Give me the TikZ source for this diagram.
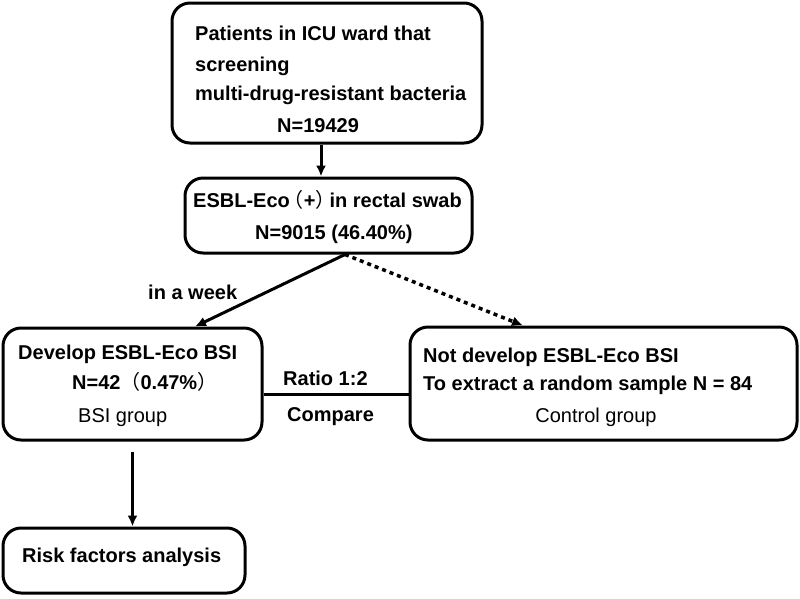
\documentclass[tikz,border=0pt]{standalone}
\usepackage{fontspec}
\setmainfont{Liberation Sans}
\newfontfamily\cjk{Noto Sans CJK SC}
\usetikzlibrary{arrows.meta,positioning}
\tikzset{
  box/.style={draw=black, line width=3pt, rounded corners=18pt, fill=none, inner sep=0pt},
  txt/.style={anchor=base west, inner sep=0pt, font=\fontsize{20}{24}\selectfont\bfseries},
  txtr/.style={anchor=base west, inner sep=0pt, font=\fontsize{20}{24}\selectfont},
  arr/.style={line width=3pt, -{Latex[length=11pt,width=10pt]}},
  dotarr/.style={line width=3.5pt, dash pattern=on 4pt off 4pt, -{Latex[length=11pt,width=10pt]}},
  link/.style={line width=3pt}
}
\begin{document}
\begin{tikzpicture}[x=1pt,y=-1pt]
\useasboundingbox (0,0) rectangle (800,598);
% boxes
\node[box, minimum width=310pt, minimum height=140pt] (top) at (327,73) {};
\node[box, minimum width=287pt, minimum height=75pt] (esbl) at (328.5,215.5) {};
\node[box, minimum width=259pt, minimum height=112pt] (bsi) at (132.5,384) {};
\node[box, minimum width=387pt, minimum height=113pt] (ctrl) at (603.5,383.5) {};
\node[box, minimum width=242pt, minimum height=65pt] (risk) at (124,560.5) {};
% texts
\node[txt] (t1) at (195,40) {Patients in ICU ward that};
\node[txt] (t2) at (195,71) {screening};
\node[txt] (t3) at (195,100) {multi-drug-resistant bacteria};
\node[txt] (t4) at (277,132) {N=19429};
\node[txt] (e1) at (193,207) {ESBL-Eco\kern-6pt{\cjk\mdseries （}+{\cjk\mdseries ）}\kern-6pt in rectal swab};
\node[txt] (e2) at (255,239) {N=9015 (46.40\%)};
\node[txt] (wk) at (148,299) {in a week};
\node[txt] (b1) at (18,359) {Develop ESBL-Eco BSI};
\node[txt] (b2) at (72,389) {N=42{\cjk\mdseries （}0.47\%{\cjk\mdseries ）}};
\node[txtr] (b3) at (78,422) {BSI group};
\node[txt] (r1) at (283,385) {Ratio 1:2};
\node[txt] (r2) at (287,421) {Compare};
\node[txt] (c1) at (423,362) {Not develop ESBL-Eco BSI};
\node[txt] (c2) at (423,390) {To extract a random sample N = 84};
\node[txtr, anchor=base] (c3) at (596,422) {Control group};
\node[txt] (k1) at (22,562) {Risk factors analysis};
% connectors
\coordinate (a1) at (321,0);
\draw[arr] (top.south -| a1) -- (esbl.north -| a1);
\coordinate (split) at (345,0);
\coordinate (lt) at (195,0);
\coordinate (rt) at (523,0);
\draw[arr] (esbl.south -| split) -- (bsi.north -| lt);
\draw[dotarr] (esbl.south -| split) -- (ctrl.north -| rt);
\coordinate (cy) at (0,394);
\draw[link] (bsi.east |- cy) -- (ctrl.west |- cy);
\draw[arr] ([yshift=-10pt]bsi.south) -- (bsi.south |- risk.north);
\end{tikzpicture}
\end{document}
